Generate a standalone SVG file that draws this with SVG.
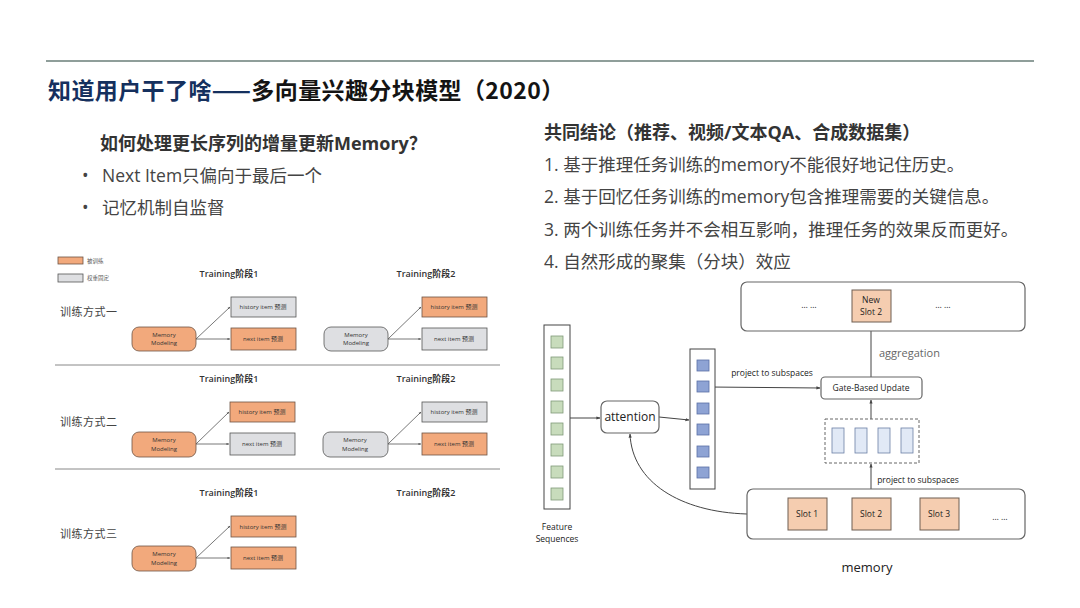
<svg xmlns="http://www.w3.org/2000/svg" width="1080" height="608" viewBox="0 0 1080 608">
<defs>
<style>
.t{font-family:"Open Sans","Noto Sans CJK SC",sans-serif}
.title{font-family:"Noto Sans CJK SC",sans-serif;font-weight:700;font-size:23px;letter-spacing:0.4px}
.sub{font-family:"Open Sans","Noto Sans CJK SC",sans-serif;font-weight:700;font-size:18px;fill:#333}
.body{font-family:"Open Sans","Noto Sans CJK SC",sans-serif;font-size:17.5px;fill:#444}
.stage{font-family:"Open Sans","Noto Sans CJK SC",sans-serif;font-size:9px;fill:#333;font-weight:600;text-anchor:middle}
.mode{font-family:"Noto Sans CJK SC",sans-serif;font-size:11px;fill:#444;letter-spacing:0.5px}
.tiny{font-family:"Open Sans","Noto Sans CJK SC",sans-serif;font-size:6px;fill:#333;text-anchor:middle}
.leg{font-family:"Noto Sans CJK SC",sans-serif;font-size:5.5px;fill:#555}
.or{fill:#f2a97c;stroke:#6e5444;stroke-width:0.8}
.gr{fill:#dedfe2;stroke:#555;stroke-width:0.8}
.ln{stroke:#555;stroke-width:0.8;fill:none}
.lnr{stroke:#444;stroke-width:1;fill:none}
.box{fill:#fff;stroke:#666;stroke-width:1.2}
.sm{font-family:"Open Sans","Noto Sans CJK SC",sans-serif;font-size:8.5px;fill:#222;text-anchor:middle}
.sq-g{fill:#c8dcbc;stroke:#7f9a78;stroke-width:0.8}
.sq-b{fill:#8ea3d4;stroke:#5a6fa6;stroke-width:0.8}
.sq-l{fill:#e1e9f6;stroke:#6b7fa6;stroke-width:0.8}
.slot{fill:#f5cdb0;stroke:#6e5e52;stroke-width:1}
</style>
<marker id="a" viewBox="0 0 10 10" refX="9" refY="5" markerWidth="4" markerHeight="4" orient="auto"><path d="M0,1 L10,5 L0,9 z" fill="#444"/></marker>
<marker id="as" viewBox="0 0 10 10" refX="9" refY="5" markerWidth="3.5" markerHeight="3.5" orient="auto"><path d="M0,1 L10,5 L0,9 z" fill="#555"/></marker>
</defs>
<rect width="1080" height="608" fill="#fff"/>
<line x1="46" y1="61" x2="1034" y2="61" stroke="#8f9e9a" stroke-width="2"/>
<text class="title" x="48" y="99"><tspan fill="#15305e">知道用户干了啥——</tspan><tspan fill="#141414">多向量兴趣分块模型（2020）</tspan></text>

<text class="sub" x="100" y="150">如何处理更长序列的增量更新Memory？</text>
<text class="body" x="82" y="182">•</text>
<text class="body" x="102" y="182">Next Item只偏向于最后一个</text>
<text class="body" x="82" y="214">•</text>
<text class="body" x="102" y="214">记忆机制自监督</text>

<text class="sub" x="544" y="139">共同结论（推荐、视频/文本QA、合成数据集）</text>
<text class="body" x="544" y="171">1. 基于推理任务训练的memory不能很好地记住历史。</text>
<text class="body" x="544" y="203">2. 基于回忆任务训练的memory包含推理需要的关键信息。</text>
<text class="body" x="544" y="236">3. 两个训练任务并不会相互影响，推理任务的效果反而更好。</text>
<text class="body" x="544" y="268">4. 自然形成的聚集（分块）效应</text>

<!-- left diagram -->
<g id="legend">
<rect class="or" x="58" y="257" width="25" height="7"/>
<text class="leg" x="87" y="263">被训练</text>
<rect class="gr" x="58" y="274" width="25" height="8"/>
<text class="leg" x="87" y="280">权重固定</text>
</g>
<g id="headers">
<text class="stage" x="229" y="277">Training阶段1</text>
<text class="stage" x="426" y="277">Training阶段2</text>
<text class="stage" x="229" y="382">Training阶段1</text>
<text class="stage" x="426" y="382">Training阶段2</text>
<text class="stage" x="229" y="496">Training阶段1</text>
<text class="stage" x="426" y="496">Training阶段2</text>
<text class="mode" x="60" y="316">训练方式一</text>
<text class="mode" x="60" y="426">训练方式二</text>
<text class="mode" x="60" y="538">训练方式三</text>
<line x1="55" y1="365" x2="500" y2="365" stroke="#888" stroke-width="1"/>
<line x1="55" y1="469" x2="500" y2="469" stroke="#888" stroke-width="1"/>
</g>
<g id="connectors-left">
<path class="ln" d="M196,339 L230,307" marker-end="url(#as)"/>
<path class="ln" d="M196,339 L230,339" marker-end="url(#as)"/>
<path class="ln" d="M388,339 L421,307" marker-end="url(#as)"/>
<path class="ln" d="M388,339 L421,339" marker-end="url(#as)"/>
<path class="ln" d="M196,444 L229,412" marker-end="url(#as)"/>
<path class="ln" d="M196,444 L229,444" marker-end="url(#as)"/>
<path class="ln" d="M388,444 L421,412" marker-end="url(#as)"/>
<path class="ln" d="M388,444 L421,444" marker-end="url(#as)"/>
<path class="ln" d="M196,558 L230,526" marker-end="url(#as)"/>
<path class="ln" d="M196,558 L230,558" marker-end="url(#as)"/>
</g>
<g id="r1s1-mem"><rect class="or" x="132" y="327" width="64" height="24" rx="7"/><text class="tiny" x="164" y="337">Memory</text><text class="tiny" x="164" y="345">Modeling</text></g>
<g id="r1s1-hist"><rect class="gr" x="231" y="297" width="65" height="20"/><text class="tiny" x="263" y="309">history item 预测</text></g>
<g id="r1s1-next"><rect class="or" x="231" y="328" width="65" height="22"/><text class="tiny" x="263" y="341">next item 预测</text></g>
<g id="r1s2-mem"><rect class="gr" x="324" y="327" width="64" height="24" rx="7"/><text class="tiny" x="356" y="337">Memory</text><text class="tiny" x="356" y="345">Modeling</text></g>
<g id="r1s2-hist"><rect class="or" x="422" y="297" width="65" height="20"/><text class="tiny" x="454" y="309">history item 预测</text></g>
<g id="r1s2-next"><rect class="gr" x="422" y="328" width="65" height="22"/><text class="tiny" x="454" y="341">next item 预测</text></g>

<g id="r2s1-mem"><rect class="or" x="132" y="432" width="64" height="25" rx="7"/><text class="tiny" x="164" y="442">Memory</text><text class="tiny" x="164" y="451">Modeling</text></g>
<g id="r2s1-hist"><rect class="or" x="230" y="402" width="65" height="20"/><text class="tiny" x="262" y="414">history item 预测</text></g>
<g id="r2s1-next"><rect class="gr" x="230" y="433" width="65" height="22"/><text class="tiny" x="262" y="446">next item 预测</text></g>
<g id="r2s2-mem"><rect class="gr" x="323" y="432" width="65" height="25" rx="7"/><text class="tiny" x="355" y="442">Memory</text><text class="tiny" x="355" y="451">Modeling</text></g>
<g id="r2s2-hist"><rect class="gr" x="422" y="402" width="65" height="20"/><text class="tiny" x="454" y="414">history item 预测</text></g>
<g id="r2s2-next"><rect class="or" x="422" y="433" width="65" height="22"/><text class="tiny" x="454" y="446">next item 预测</text></g>

<g id="r3s1-mem"><rect class="or" x="132" y="546" width="64" height="25" rx="7"/><text class="tiny" x="164" y="556">Memory</text><text class="tiny" x="164" y="565">Modeling</text></g>
<g id="r3s1-hist"><rect class="or" x="231" y="516" width="65" height="21"/><text class="tiny" x="263" y="529">history item 预测</text></g>
<g id="r3s1-next"><rect class="or" x="231" y="547" width="65" height="22"/><text class="tiny" x="263" y="560">next item 预测</text></g>

<!-- right diagram -->
<g id="connectors-right">
<path class="lnr" d="M570,418 L600,418" marker-end="url(#a)"/>
<path class="lnr" d="M659,417 L689,420" marker-end="url(#a)"/>
<path class="lnr" d="M709,387 L820,388" marker-end="url(#a)"/>
<path class="lnr" d="M871,377 L871,323" marker-end="url(#a)"/>
<path class="lnr" d="M871,419 L871,400" marker-end="url(#a)"/>
<path class="lnr" d="M871,497 L871,464" marker-end="url(#a)"/>
<path class="lnr" d="M747,514 C680,512 632,482 630,434" marker-end="url(#a)"/>
</g>
<g id="feature-seq">
<rect x="544" y="325" width="26" height="184" fill="#fff" stroke="#444" stroke-width="1"/>
<rect class="sq-g" x="551" y="336" width="12" height="12"/>
<rect class="sq-g" x="551" y="357" width="12" height="12"/>
<rect class="sq-g" x="551" y="379" width="12" height="12"/>
<rect class="sq-g" x="551" y="401" width="12" height="12"/>
<rect class="sq-g" x="551" y="423" width="12" height="12"/>
<rect class="sq-g" x="551" y="444" width="12" height="12"/>
<rect class="sq-g" x="551" y="466" width="12" height="12"/>
<rect class="sq-g" x="551" y="488" width="12" height="12"/>
<text class="sm" x="557" y="530">Feature</text>
<text class="sm" x="557" y="542">Sequences</text>
</g>
<g id="attention"><rect class="box" x="601" y="401" width="58" height="32" rx="6"/><text class="t" x="630" y="421" font-size="12" fill="#222" text-anchor="middle">attention</text></g>
<g id="proj-col">
<rect x="690" y="349" width="25" height="140" fill="#fff" stroke="#444" stroke-width="1"/>
<rect class="sq-b" x="697" y="360" width="12" height="11"/>
<rect class="sq-b" x="697" y="381" width="12" height="11"/>
<rect class="sq-b" x="697" y="403" width="12" height="11"/>
<rect class="sq-b" x="697" y="424" width="12" height="11"/>
<rect class="sq-b" x="697" y="446" width="12" height="11"/>
<rect class="sq-b" x="697" y="467" width="12" height="11"/>
</g>
<text class="sm" x="772" y="376">project to subspaces</text>
<g id="gate"><rect class="box" x="821" y="377" width="101" height="22" rx="4"/><text class="sm" x="871" y="391">Gate-Based Update</text></g>
<text class="t" x="879" y="357" font-size="11" fill="#666">aggregation</text>
<g id="new-memory">
<rect class="box" x="741" y="282" width="284" height="49" rx="6"/>
<rect class="slot" x="852" y="290" width="39" height="32"/>
<text class="sm" x="871" y="303">New</text>
<text class="sm" x="871" y="315">Slot 2</text>
<text class="sm" x="809" y="308">… …</text>
<text class="sm" x="943" y="308">… …</text>
</g>
<g id="subspaces">
<rect x="825" y="419" width="94" height="44" fill="#fff" stroke="#666" stroke-width="1" stroke-dasharray="3,2"/>
<rect class="sq-l" x="832" y="428" width="12" height="25"/>
<rect class="sq-l" x="855" y="428" width="12" height="25"/>
<rect class="sq-l" x="878" y="428" width="12" height="25"/>
<rect class="sq-l" x="901" y="428" width="12" height="25"/>
</g>
<text class="sm" x="918" y="483">project to subspaces</text>
<g id="memory">
<rect class="box" x="747" y="489" width="278" height="50" rx="6"/>
<rect class="slot" x="788" y="498" width="39" height="32"/><text class="sm" x="807" y="517">Slot 1</text>
<rect class="slot" x="852" y="498" width="39" height="32"/><text class="sm" x="871" y="517">Slot 2</text>
<rect class="slot" x="920" y="498" width="39" height="32"/><text class="sm" x="939" y="517">Slot 3</text>
<text class="sm" x="1000" y="520">… …</text>
<text class="t" x="867" y="572" font-size="13" fill="#222" text-anchor="middle">memory</text>
</g>
</svg>
